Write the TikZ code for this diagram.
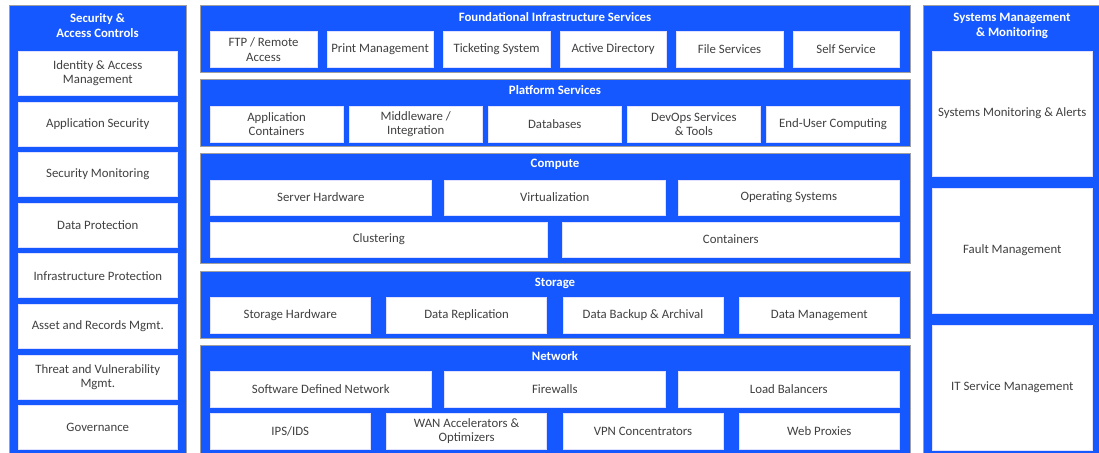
\documentclass[tikz,border=0pt]{standalone}
\usepackage{fontspec}
\setmainfont{Carlito}
\definecolor{PanelBlue}{RGB}{22, 88, 255}
\definecolor{TextGray}{RGB}{64, 64, 64}

\begin{document}
\begin{tikzpicture}[x=1pt, y=-1pt,
        panel/.style={draw=gray!75, line width=1pt, fill=PanelBlue, inner sep=0pt, anchor=north west},
        title/.style={text=white, font=\fontsize{12.8}{15}\selectfont\bfseries, align=center},
        item/.style={draw=blue!12, line width=0.6pt, fill=white, text=TextGray, font=\fontsize{12.8}{14.2}\selectfont, align=center, inner sep=0pt, anchor=north west, minimum height=35.5pt},
        sideitem/.style={item, minimum width=159pt, minimum height=44pt},
        mgmtitem/.style={item, minimum width=160pt, minimum height=124.5pt}
    ]
    \useasboundingbox (0,0) rectangle (1099,452);

    % Left column
    \node[panel, minimum width=177pt, minimum height=460pt] (secpanel) at (9,5) {};
    \node[title] (sectitle) at (97.5,26) {Security \&\\Access Controls};
    \node[sideitem] (iam) at (18,51) {Identity \& Access\\Management};
    \node[sideitem] (appsec) at (18,101.6) {Application Security};
    \node[sideitem] (secmon) at (18,152.2) {Security Monitoring};
    \node[sideitem] (dataprot) at (18,202.8) {Data Protection};
    \node[sideitem] (infraprot) at (18,253.4) {Infrastructure Protection};
    \node[sideitem] (asset) at (18,304) {Asset and Records Mgmt.};
    \node[sideitem] (threat) at (18,354.6) {Threat and Vulnerability\\Mgmt.};
    \node[sideitem] (gov) at (18,405.2) {Governance};

    % Foundational Infrastructure Services
    \node[panel, minimum width=710pt, minimum height=66.5pt] (fispanel) at (200,5.5) {};
    \node[title] (fistitle) at (555,17) {Foundational Infrastructure Services};
    \node[item, minimum width=106.5pt] (ftp) at (210,31.5) {FTP / Remote\\Access};
    \node[item, minimum width=106.5pt] (print) at (326.5,31.5) {Print Management};
    \node[item, minimum width=106.5pt] (ticket) at (443,31.5) {Ticketing System};
    \node[item, minimum width=106.5pt] (ad) at (559.5,31.5) {Active Directory};
    \node[item, minimum width=106.5pt] (files) at (676,31.5) {File Services};
    \node[item, minimum width=106.5pt] (self) at (792.5,31.5) {Self Service};

    % Platform Services
    \node[panel, minimum width=710pt, minimum height=66.5pt] (platpanel) at (200,79) {};
    \node[title] (plattitle) at (555,90.5) {Platform Services};
    \node[item, minimum width=132.6pt] (appcont) at (210,106) {Application\\Containers};
    \node[item, minimum width=132.6pt] (middle) at (349.1,106) {Middleware /\\Integration};
    \node[item, minimum width=132.6pt] (db) at (488.2,106) {Databases};
    \node[item, minimum width=132.6pt] (devops) at (627.3,106) {DevOps Services\\\& Tools};
    \node[item, minimum width=132.6pt] (euc) at (766.4,106) {End-User Computing};

    % Compute
    \node[panel, minimum width=710pt, minimum height=110pt] (comppanel) at (200,153) {};
    \node[title] (comptitle) at (555,164.5) {Compute};
    \node[item, minimum width=221pt] (server) at (210,179.5) {Server Hardware};
    \node[item, minimum width=221pt] (virt) at (444,179.5) {Virtualization};
    \node[item, minimum width=221pt] (os) at (678,179.5) {Operating Systems};
    \node[item, minimum width=337pt] (cluster) at (210,221.5) {Clustering};
    \node[item, minimum width=337pt] (cont) at (562,221.5) {Containers};

    % Storage
    \node[panel, minimum width=710pt, minimum height=67pt] (storpanel) at (200,271) {};
    \node[title] (stortitle) at (555,283) {Storage};
    \node[item, minimum width=160pt] (storhw) at (210,297) {Storage Hardware};
    \node[item, minimum width=160pt] (repl) at (386.3,297) {Data Replication};
    \node[item, minimum width=160pt] (backup) at (562.7,297) {Data Backup \& Archival};
    \node[item, minimum width=160pt] (datamgmt) at (739,297) {Data Management};

    % Network
    \node[panel, minimum width=710pt, minimum height=115pt] (netpanel) at (200,344.5) {};
    \node[title] (nettitle) at (555,356.5) {Network};
    \node[item, minimum width=221pt] (sdn) at (210,371) {Software Defined Network};
    \node[item, minimum width=221pt] (fw) at (444,371) {Firewalls};
    \node[item, minimum width=221pt] (lb) at (678,371) {Load Balancers};
    \node[item, minimum width=160pt] (ips) at (210,413) {IPS/IDS};
    \node[item, minimum width=160pt] (wan) at (386.3,413) {WAN Accelerators \&\\Optimizers};
    \node[item, minimum width=160pt] (vpn) at (562.7,413) {VPN Concentrators};
    \node[item, minimum width=160pt] (proxy) at (739,413) {Web Proxies};

    % Right column
    \node[panel, minimum width=178pt, minimum height=460pt] (mgmtpanel) at (923,5) {};
    \node[title] (mgmttitle) at (1012,26) {Systems Management\\\& Monitoring};
    \node[mgmtitem] (sysmon) at (932,51) {Systems Monitoring \& Alerts};
    \node[mgmtitem] (fault) at (932,188) {Fault Management};
    \node[mgmtitem] (itsm) at (932,325) {IT Service Management};
\end{tikzpicture}
\end{document}
